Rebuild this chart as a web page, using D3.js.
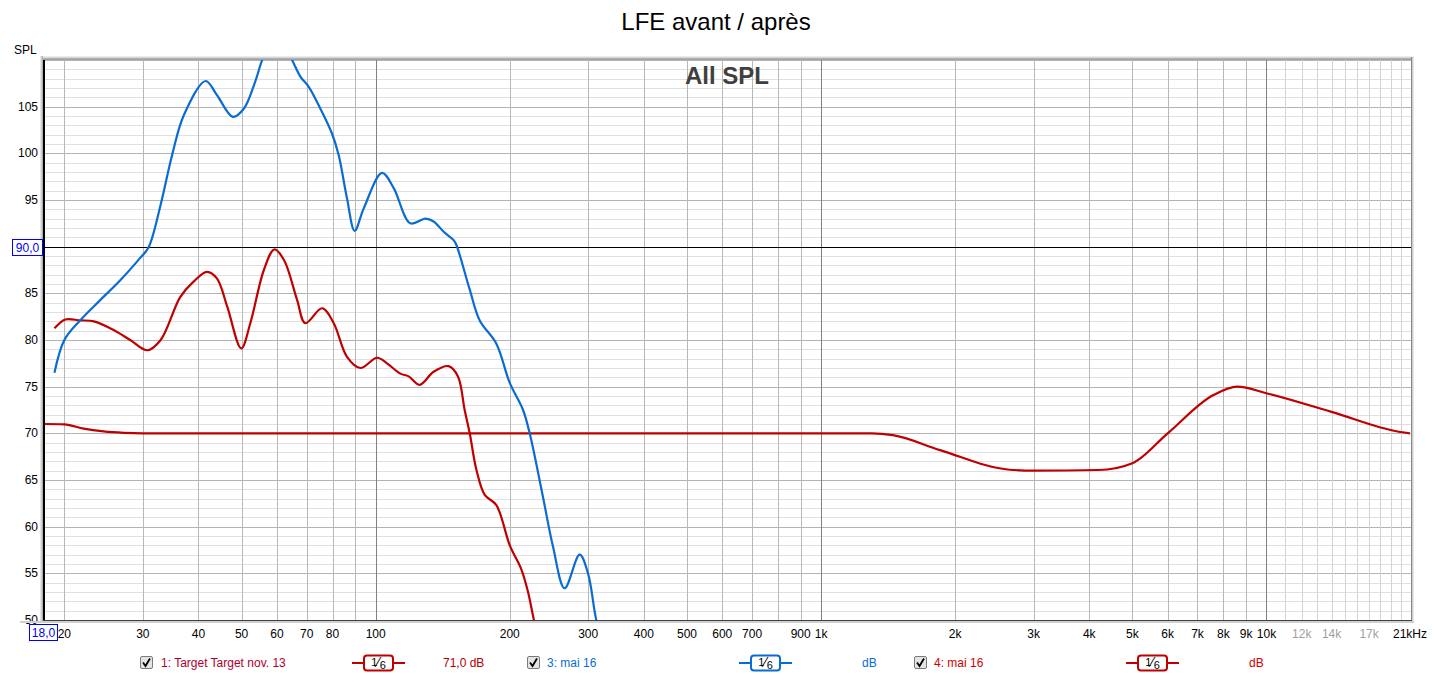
<!DOCTYPE html>
<html>
<head>
<meta charset="utf-8">
<title>LFE avant / après</title>
<script src="https://cdnjs.cloudflare.com/ajax/libs/d3/7.8.5/d3.min.js"></script>
<style>
  body { margin: 0; background: #fff; }
  svg { font-family: "Liberation Sans", Arial, sans-serif; }
</style>
</head>
<body>
<div id="chart"></div>
<script>
// series data (Hz, dB)
var targetFreq = [18, 20, 22.1, 24.5, 27.2, 30, 1300, 1450, 1850, 2650, 3000, 4200, 5000, 6000, 7600, 8600, 10000, 14000, 19700, 21000];
var targetDb   = [71.0, 70.97, 70.5, 70.2, 70.05, 70.0, 70.0, 69.8, 68.2, 66.1, 66.0, 66.07, 66.8, 70.0, 74.1, 75.0, 74.3, 72.3, 70.2, 70.0];

var blueFreq = [19.0, 20.0, 21.7, 24.1, 26.7, 29.6, 30.9, 32.9, 34.9, 37.1, 41.5, 44.0, 47.8, 50.6, 53.3, 55.6, 59.5, 64.9, 67.8, 70.8, 75.1, 79.8, 82.6, 86.2, 89.7, 94.0, 103.3, 109.7, 119.6, 129.3, 134.9, 142.1, 149.6, 151.7, 162.6, 171.2, 186.6, 200, 214.2, 221.7, 237.4, 250, 265.6, 287, 299.7, 312.8, 330];
var blueDb   = [76.5, 80.0, 82.1, 84.3, 86.4, 88.8, 89.9, 94.5, 99.8, 104.1, 107.75, 106.25, 103.9, 104.8, 107.3, 110, 113.5, 110, 108.2, 107.1, 104.8, 102.1, 99.8, 95.2, 91.7, 94.1, 97.9, 96.3, 92.5, 93.0, 92.7, 91.6, 90.7, 90.2, 85.4, 82.1, 79.6, 75.4, 72.5, 70.0, 63.2, 57.9, 53.4, 57.0, 55.0, 50, 46];

var redFreq = [19.0, 20.1, 21.7, 23.3, 25.8, 28.1, 30.7, 32.9, 36.4, 39.0, 41.8, 44.0, 46.4, 49.9, 52.3, 56.1, 59.2, 62.2, 66.6, 69.5, 75.8, 80.5, 86.2, 92.4, 100.7, 106, 113.6, 118.6, 125.5, 134.9, 145.8, 153, 158.4, 162.6, 168.3, 175.7, 186.6, 200, 212.4, 219.8, 226.6, 235];
var redDb   = [81.25, 82.2, 82.1, 82.0, 81.07, 80.0, 78.9, 80.0, 84.6, 86.25, 87.3, 86.6, 83.6, 79.1, 81.8, 87.5, 89.7, 88.6, 84.3, 81.8, 83.4, 81.8, 78.2, 77.0, 78.1, 77.5, 76.4, 76.1, 75.2, 76.6, 77.2, 76.1, 72.5, 70.0, 66.1, 63.4, 62.3, 58.0, 55.4, 53.0, 50, 47];

var xTicks = [20, 30, 40, 50, 60, 70, 80, 100, 200, 300, 400, 500, 600, 700, 900, 1000, 2000, 3000, 4000, 5000, 6000, 7000, 8000, 9000, 10000, 12000, 14000, 17000];
var yTicks = [50, 55, 60, 65, 70, 75, 80, 85, 95, 100, 105];

var W = 1433, H = 678;
var pLeft = 44, pRight = 1410, pTop = 60, pBottom = 620;
var red = "#c00000", blue = "#0a6cd2";

var svg = d3.select("#chart").append("svg").attr("width", W).attr("height", H);

var x = d3.scaleLog().domain([18, 21000]).range([pLeft, pRight]);
var y = d3.scaleLinear().domain([50, 110]).range([pBottom, pTop]);

// title
svg.append("text").attr("x", 716).attr("y", 30).attr("text-anchor", "middle")
  .style("font-size", "24px").text("LFE avant / après");
svg.append("text").attr("x", 14).attr("y", 54).style("font-size", "12px").text("SPL");

var grid = svg.append("g");

// horizontal grid, 1 dB steps
d3.range(50, 111).forEach(function (v) {
  grid.append("line").attr("x1", pLeft).attr("x2", pRight + 1)
    .attr("y1", Math.round(y(v)) + 0.5).attr("y2", Math.round(y(v)) + 0.5)
    .attr("stroke", v % 5 === 0 ? "#b4b4b4" : "#e0e0e0");
});

// vertical grid
var vlines = [];
[10, 100, 1000].forEach(function (dec) {
  d3.range(1, 10).forEach(function (m) { if (m * dec >= 18) vlines.push(m * dec); });
});
d3.range(10000, 21000, 1000).forEach(function (f) { vlines.push(f); });
vlines.forEach(function (f) {
  var c = "#b8b8b8";
  if (f === 100 || f === 1000 || f === 10000) c = "#808080";
  else if (f > 10000) c = "#d4d4d4";
  grid.append("line").attr("x1", Math.round(x(f)) + 0.5).attr("x2", Math.round(x(f)) + 0.5)
    .attr("y1", pTop).attr("y2", pBottom).attr("stroke", c);
});

// reference line 90 dB
grid.append("line").attr("x1", pLeft).attr("x2", pRight + 1)
  .attr("y1", Math.round(y(90)) + 0.5).attr("y2", Math.round(y(90)) + 0.5).attr("stroke", "#000");

// "All SPL"
svg.append("text").attr("x", 727).attr("y", 84).attr("text-anchor", "middle")
  .style("font-size", "24px").style("font-weight", "bold").attr("fill", "#404040").text("All SPL");

// curves
svg.append("clipPath").attr("id", "clip").append("rect")
  .attr("x", pLeft).attr("y", pTop).attr("width", pRight - pLeft).attr("height", pBottom - pTop);

function pts(fs, vs) { return fs.map(function (f, i) { return [f, vs[i]]; }); }
function lineWith(curve) {
  return d3.line().x(function (d) { return x(d[0]); }).y(function (d) { return y(d[1]); }).curve(curve);
}
var flatLine = lineWith(d3.curveMonotoneX);
var smoothLine = lineWith(d3.curveCatmullRom.alpha(0.5));
var curves = svg.append("g").attr("clip-path", "url(#clip)");
[[targetFreq, targetDb, red, flatLine], [redFreq, redDb, red, smoothLine], [blueFreq, blueDb, blue, smoothLine]].forEach(function (s) {
  curves.append("path").attr("d", s[3](pts(s[0], s[1])))
    .attr("fill", "none").attr("stroke", s[2]).attr("stroke-width", 2.2);
});

// y labels
svg.selectAll(".yl").data(yTicks).enter().append("text")
  .attr("x", 38).attr("y", function (d) { return y(d) + 4; }).attr("text-anchor", "end")
  .style("font-size", "12px").text(function (d) { return d; });

// frame (sunken look)
var fr = svg.append("g");
[["#ececec", 56.5], ["#d6d6d6", 57.5], ["#b4b4b4", 58.5], ["#a0a0a0", 59.5]].forEach(function (a) {
  fr.append("line").attr("x1", 40).attr("x2", pRight + 4).attr("y1", a[1]).attr("y2", a[1]).attr("stroke", a[0]);
});
[["#e6e6e6", 40.5], ["#cfcfcf", 41.5], ["#b0b0b0", 42.5]].forEach(function (a) {
  fr.append("line").attr("x1", a[1]).attr("x2", a[1]).attr("y1", 56).attr("y2", pBottom + 3).attr("stroke", a[0]);
});
fr.append("rect").attr("x", 43).attr("y", 60).attr("width", 2).attr("height", pBottom - 60 + 1).attr("fill", "#000");
fr.append("line").attr("x1", pRight + 1.5).attr("x2", pRight + 1.5).attr("y1", 57).attr("y2", pBottom).attr("stroke", "#888");
fr.append("line").attr("x1", pRight + 2.5).attr("x2", pRight + 2.5).attr("y1", 57).attr("y2", pBottom + 3).attr("stroke", "#cfcfcf");
fr.append("line").attr("x1", pRight + 3.5).attr("x2", pRight + 3.5).attr("y1", 57).attr("y2", pBottom + 3).attr("stroke", "#e6e6e6");
fr.append("line").attr("x1", 43).attr("x2", pRight + 2).attr("y1", pBottom + 0.5).attr("y2", pBottom + 0.5).attr("stroke", "#404040");
fr.append("rect").attr("x", 20).attr("y", pBottom + 1).attr("width", pRight - 16).attr("height", 2).attr("fill", "#d0d0d0");

// x labels
svg.selectAll(".xl").data(xTicks).enter().append("text")
  .attr("x", function (d) { return x(d); }).attr("y", 638).attr("text-anchor", "middle")
  .style("font-size", "12px")
  .attr("fill", function (d) { return d > 10000 ? "#a0a0a0" : "#000"; })
  .text(function (d) { return d < 1000 ? d : (d / 1000) + "k"; });
svg.append("text").attr("x", x(21000) - 17).attr("y", 638).style("font-size", "12px").text("21kHz");

// value boxes
function valueBox(cx, cy, w, txt) {
  svg.append("rect").attr("x", cx).attr("y", cy).attr("width", w).attr("height", 16)
    .attr("fill", "#fff").attr("stroke", "#0000ff");
  svg.append("text").attr("x", cx + w / 2).attr("y", cy + 12.5).attr("text-anchor", "middle")
    .style("font-size", "12px").attr("fill", "#0000ff").text(txt);
}
valueBox(29.5, 624.5, 28, "18,0");
valueBox(12.5, 239.5, 30, "90,0");

// legend
function checkbox(px) {
  var g = svg.append("g").attr("transform", "translate(" + px + ",656)");
  g.append("rect").attr("x", 0.5).attr("y", 0.5).attr("width", 12).attr("height", 12).attr("rx", 1.5)
    .attr("fill", "#e4e4e4").attr("stroke", "#7a7a7a");
  g.append("path").attr("d", "M3,6.5 L5.5,10 L10,2.5").attr("fill", "none").attr("stroke", "#000").attr("stroke-width", 1.8);
}
function smoothSym(px, col) {
  var g = svg.append("g").attr("transform", "translate(" + px + ",663)");
  g.append("line").attr("x1", 0).attr("x2", 53).attr("y1", 0).attr("y2", 0).attr("stroke", col).attr("stroke-width", 2);
  g.append("rect").attr("x", 12).attr("y", -7.5).attr("width", 29).attr("height", 15).attr("rx", 3)
    .attr("fill", "#fff").attr("stroke", col).attr("stroke-width", 2);
  var t = g.append("text").attr("x", 26.5).attr("y", 4).attr("text-anchor", "middle").attr("fill", "#000");
  t.append("tspan").style("font-size", "11px").attr("dy", -1).text("1");
  t.append("tspan").style("font-size", "14px").attr("dy", 1).text("⁄");
  t.append("tspan").style("font-size", "11px").attr("dy", 2).text("6");
}
function legendText(px, col, txt) {
  svg.append("text").attr("x", px).attr("y", 667).style("font-size", "12px").attr("fill", col).text(txt);
}
checkbox(140);
legendText(161, "#b0002a", "1: Target Target nov. 13");
smoothSym(352, red);
legendText(443, "#b00000", "71,0 dB");
checkbox(527);
legendText(547, blue, "3: mai 16");
smoothSym(739, blue);
legendText(862, blue, "dB");
checkbox(914);
legendText(934, "#d00000", "4: mai 16");
smoothSym(1126, red);
legendText(1249, "#d00000", "dB");
</script>
</body>
</html>
